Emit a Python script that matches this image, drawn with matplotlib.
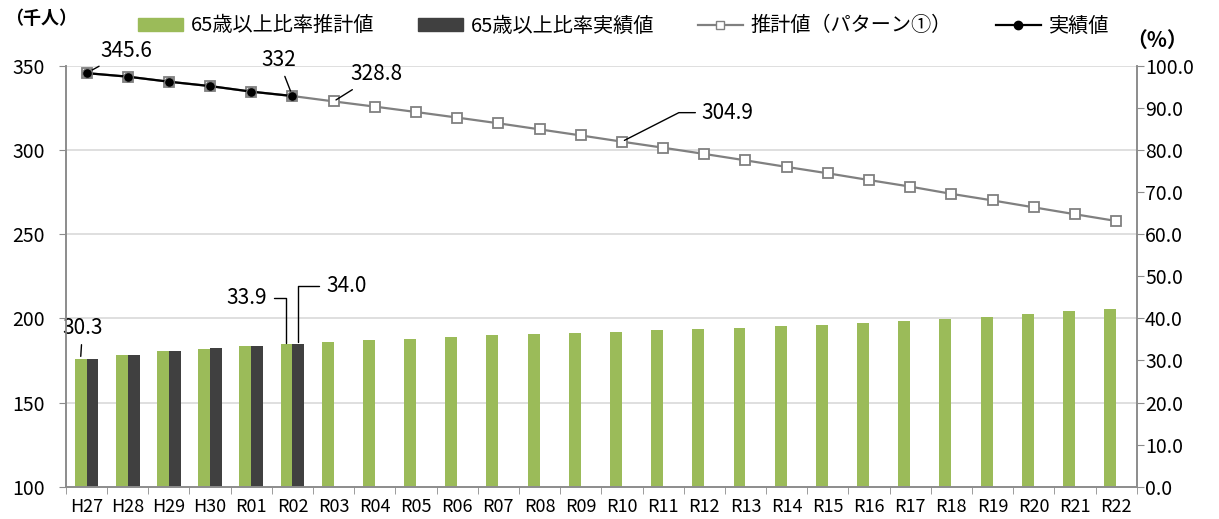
import numpy as np
import matplotlib
matplotlib.use('Agg')
import matplotlib.pyplot as plt
from matplotlib.patches import Patch
from matplotlib.lines import Line2D

plt.rcParams['font.family'] = ['Noto Sans CJK JP', 'DejaVu Sans']

# categories (years)
years = ['H27', 'H28', 'H29', 'H30', 'R01', 'R02', 'R03', 'R04', 'R05', 'R06',
         'R07', 'R08', 'R09', 'R10', 'R11', 'R12', 'R13', 'R14', 'R15', 'R16',
         'R17', 'R18', 'R19', 'R20', 'R21', 'R22']

# population, thousand people (left axis)
pop_est = [345.6, 343.5, 340.5, 337.9, 334.6, 332.0, 328.8, 325.7, 322.5, 319.2,
           315.8, 312.2, 308.6, 304.9, 301.3, 297.6, 293.8, 289.9, 286.1, 282.1,
           278.2, 273.9, 270.0, 265.9, 261.8, 257.8]
pop_act = [345.6, 343.5, 340.5, 337.9, 334.6, 332.0]

# share of 65+ (%), right axis
ratio_est = [30.3, 31.3, 32.2, 32.7, 33.4, 33.9, 34.4, 34.8, 35.1, 35.5,
             36.0, 36.2, 36.5, 36.7, 37.2, 37.4, 37.7, 38.1, 38.4, 38.8,
             39.3, 39.8, 40.3, 41.0, 41.7, 42.2]
ratio_act = [30.3, 31.3, 32.2, 32.9, 33.4, 34.0]

green = '#9BBB59'
dark = '#404040'
gray = '#808080'
spine = '#8C8C8C'

fig = plt.figure(figsize=(12.19, 5.19), dpi=100)
ax = fig.add_axes([0.0541, 0.0622, 0.8784, 0.8112])   # bars, right scale
ax2 = ax.twinx()                                        # lines, left scale

x = np.arange(len(years))
xa = np.arange(len(ratio_act))
w = 0.29

ax.bar(x - w / 2, ratio_est, width=w, color=green, zorder=2)
ax.bar(xa + w / 2, ratio_act, width=w, color=dark, zorder=2)
ax.set_ylim(0, 100)
ax.set_xlim(-0.5, len(years) - 0.5)
ax.yaxis.tick_right()
ax.set_yticks(np.arange(0, 101, 10))
ax.set_yticklabels(['%.1f' % v for v in np.arange(0, 101, 10)], fontsize=14)

ax2.plot(x, pop_est, color=gray, lw=1.6, marker='s', ms=7, mfc='white',
         mec=gray, mew=1.3, zorder=3)
ax2.plot(xa, pop_act, color='black', lw=1.6, marker='o', ms=7, mfc='black',
         mec=gray, mew=0.8, zorder=4)
ax2.set_ylim(100, 350)
ax2.yaxis.tick_left()
ax2.set_yticks(np.arange(100, 351, 50))
ax2.tick_params(axis='y', labelsize=14)

# gridlines drawn on the bar axes, behind everything
for v in np.arange(20, 101, 20):
    ax.axhline(v, color='#D9D9D9', lw=1.2, zorder=0)

ax.set_xticks(x)
ax.set_xticklabels(years, fontsize=13)
ax.set_xticks(np.arange(-0.5, len(years), 1), minor=True)
ax.tick_params(axis='x', which='major', length=0, pad=8)
ax.tick_params(axis='x', which='minor', length=5, color=spine, direction='out')
ax.tick_params(axis='y', length=5, color=spine, pad=1)
ax2.tick_params(axis='y', length=5, color=spine, pad=10)

for a in (ax, ax2):
    a.spines['top'].set_visible(False)
    for s in ('left', 'right', 'bottom'):
        a.spines[s].set_color(spine)
        a.spines[s].set_linewidth(1.2)

# data labels
lab = dict(textcoords='offset pixels', fontsize=15, ha='center', va='center',
           arrowprops=dict(arrowstyle='-', color='black', lw=1, shrinkA=2, shrinkB=2))
ax2.annotate('345.6', (0, pop_est[0]), xytext=(40, 22), **lab)
ax2.annotate('332', (5, pop_act[5]), xytext=(-14, 36), **lab)
ax2.annotate('328.8', (6, pop_est[6]), xytext=(43, 27), **lab)
ax2.annotate('304.9', (13, pop_est[13]), xytext=(105, 29),
             textcoords='offset pixels', fontsize=15, ha='center', va='center',
             arrowprops=dict(arrowstyle='-', color='black', lw=1, shrinkA=2, shrinkB=2,
                             connectionstyle='angle,angleA=0,angleB=27,rad=0'))
ax.annotate('30.3', (0 - w / 2, ratio_est[0]), xytext=(2, 31), **lab)
ax.annotate('33.9', (5 - w / 2, ratio_est[5]), xytext=(-40, 46),
            textcoords='offset pixels', fontsize=15, ha='center', va='center',
            arrowprops=dict(arrowstyle='-', color='black', lw=1, shrinkA=3, shrinkB=1,
                            connectionstyle='angle,angleA=0,angleB=90,rad=0'))
ax.annotate('34.0', (5 + w / 2, ratio_act[5]), xytext=(48, 58),
            textcoords='offset pixels', fontsize=15, ha='center', va='center',
            arrowprops=dict(arrowstyle='-', color='black', lw=1, shrinkA=3, shrinkB=1,
                            connectionstyle='angle,angleA=0,angleB=90,rad=0'))

# axis unit captions
fig.text(0.004, 0.965, '（千人）', fontsize=13, fontweight='bold', va='center')
fig.text(0.924, 0.922, '（%）', fontsize=15, fontweight='bold', va='center')

handles = [Patch(color=green), Patch(color=dark),
           Line2D([], [], color=gray, lw=1.6, marker='s', ms=6, mfc='white', mec=gray),
           Line2D([], [], color='black', lw=1.6, marker='o', ms=6, mfc='black')]
labels = ['65歳以上比率推計値', '65歳以上比率実績値', '推計値（パターン①）', '実績値']
fig.legend(handles, labels, ncol=4, loc='center left', bbox_to_anchor=(0.0985, 0.95),
           frameon=False, fontsize=14.5, handlelength=2.2, handleheight=0.6,
           columnspacing=2.2, handletextpad=0.4)

fig.savefig('out.png', dpi=100)
